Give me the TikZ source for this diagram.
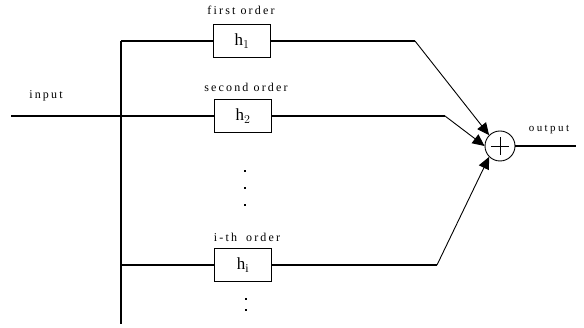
\documentclass[tikz,border=0pt]{standalone}
\usepackage{fontspec}
\setmainfont{Liberation Serif}
\usetikzlibrary{arrows.meta}
\begin{document}
\begin{tikzpicture}[x=1pt,y=-1pt,
  wire/.style={line width=1.4pt},
  feed/.style={line width=0.9pt,-{Triangle[length=12pt,width=11pt]}},
  filt/.style={draw,line width=1.1pt,minimum width=57pt,minimum height=33pt,inner sep=0pt,
    font=\fontsize{17}{19}\selectfont},
  lbl/.style={font=\fontsize{12}{14}\selectfont\addfontfeature{LetterSpace=18},inner sep=0pt},
  dotmark/.style={fill,inner sep=0pt,minimum size=2.2pt,rectangle}]
\useasboundingbox (0,0) rectangle (584,328);
% filter branches
\node[filt] (h1) at (242,41) {h$_1$};
\node[filt] (h2) at (243,116) {h$_2$};
\node[filt] (hi) at (243,265) {h$_{\mathrm{i}}$};
\node[lbl] at (241,10) {first order};
\node[lbl] at (246,87) {second order};
\node[lbl] at (247,237) {i-th\,\, order};
% summing junction
\node[draw,circle,line width=0.9pt,minimum size=30pt,inner sep=0pt] (sum) at (500,146) {};
\draw[line width=0.8pt] ([xshift=-9pt]sum.center) -- ([xshift=9pt]sum.center)
      ([yshift=-9pt]sum.center) -- ([yshift=9pt]sum.center);
% input, bus and output
\coordinate (in) at (11,116);
\coordinate (bustop) at (121,41);
\coordinate (busi) at (121,265);
\coordinate (busbot) at (121,324);
\coordinate (out) at (576,146);
\node[lbl] at (46,96) {input};
\node[lbl,font=\fontsize{11}{13}\selectfont\addfontfeature{LetterSpace=22}] at (549,130) {output};
\draw[wire] (in) -- (h2);
\draw[wire] (bustop) -- (busbot);
\draw[wire] (bustop) -- (h1);
\draw[wire] (busi) -- (hi);
\draw[wire] (sum) -- (out);
% branch outputs into the junction
\coordinate (k1) at (415,41);
\coordinate (k2) at (445,116);
\coordinate (ki) at (437,265);
\draw[wire] (h1) -- (k1);
\draw[wire] (h2) -- (k2);
\draw[wire] (hi) -- (ki);
\draw[feed] (k1) -- (sum.north west);
\draw[feed] (k2) -- (sum.west);
\draw[feed] (ki) -- (sum.south west);
% ellipsis dots
\foreach \y in {171,188,205} \node[dotmark] at (245,\y) {};
\foreach \y in {299,310} \node[dotmark] at (246,\y) {};
\end{tikzpicture}
\end{document}
